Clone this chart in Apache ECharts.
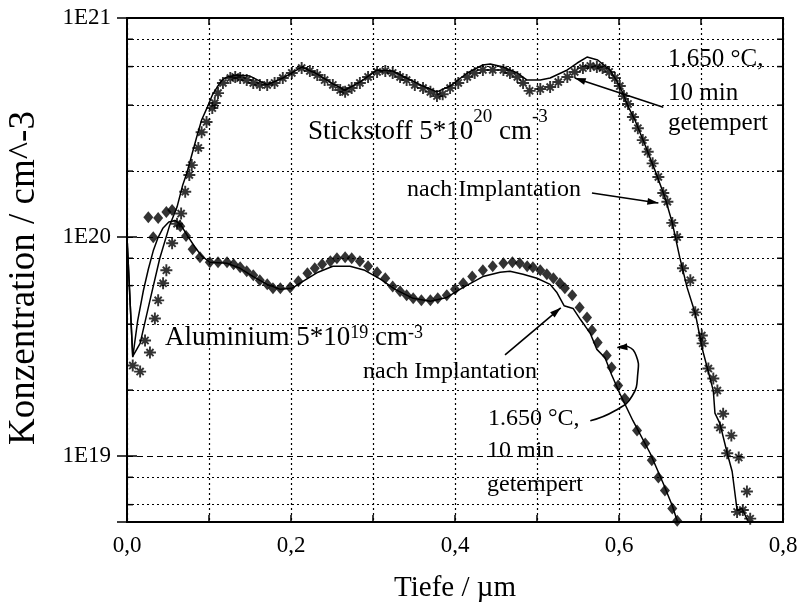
<!DOCTYPE html>
<html>
<head>
<meta charset="utf-8">
<script src="https://cdn.jsdelivr.net/npm/echarts@6/dist/echarts.min.js"></script>
<style>
  html, body { margin: 0; padding: 0; background: #fff; }
  #chart { width: 800px; height: 603px; }
</style>
</head>
<body>
<div id="chart"></div>
<script>
const FONT = '"Liberation Serif", "Times New Roman", "DejaVu Serif", serif';

// Tiefe (µm) / Konzentration (cm^-3)
const stickstoffImplantiert = [
  [0.007,2.59e19],[0.016,2.43e19],[0.022,3.37e19],[0.028,2.97e19],[0.034,4.25e19],[0.038,5.14e19],
  [0.044,6.15e19],[0.048,7.05e19],[0.055,9.36e19],[0.061,1.15e20],[0.066,1.28e20],[0.071,1.61e20],
  [0.076,1.92e20],[0.079,2.13e20],[0.087,2.55e20],[0.091,3.01e20],[0.097,3.35e20],[0.104,3.88e20],
  [0.107,4.09e20],[0.111,4.54e20],[0.117,5.05e20],[0.126,5.32e20],[0.132,5.38e20],[0.138,5.32e20],
  [0.146,5.21e20],[0.154,5.05e20],[0.162,4.95e20],[0.171,4.95e20],[0.180,5.05e20],[0.190,5.32e20],
  [0.201,5.61e20],[0.213,5.91e20],[0.223,5.73e20],[0.232,5.49e20],[0.241,5.21e20],[0.251,4.95e20],
  [0.260,4.69e20],[0.266,4.60e20],[0.274,4.79e20],[0.284,5.05e20],[0.294,5.38e20],[0.305,5.67e20],
  [0.315,5.73e20],[0.324,5.61e20],[0.333,5.38e20],[0.341,5.21e20],[0.351,4.95e20],[0.361,4.79e20],
  [0.370,4.60e20],[0.378,4.40e20],[0.385,4.49e20],[0.394,4.79e20],[0.404,5.05e20],[0.415,5.38e20],
  [0.424,5.61e20],[0.434,5.79e20],[0.446,5.79e20],[0.459,5.79e20],[0.467,5.61e20],[0.476,5.38e20],
  [0.483,5.05e20],[0.491,4.65e20],[0.504,4.74e20],[0.516,4.84e20],[0.526,5.10e20],[0.537,5.38e20],
  [0.546,5.67e20],[0.556,5.91e20],[0.565,6.04e20],[0.573,5.97e20],[0.580,5.91e20],[0.588,5.67e20],
  [0.595,5.32e20],[0.601,4.89e20],[0.606,4.40e20],[0.611,4.05e20],[0.617,3.53e20],[0.623,3.14e20],
  [0.629,2.77e20],[0.635,2.45e20],[0.641,2.17e20],[0.648,1.88e20],[0.654,1.59e20],[0.659,1.45e20],
  [0.665,1.16e20],[0.671,1.00e20],[0.678,7.20e19],[0.687,6.35e19],[0.693,4.53e19],[0.701,3.55e19],
  [0.702,3.27e19],[0.709,2.51e19],[0.715,2.26e19],[0.720,1.99e19],[0.727,1.56e19],[0.723,1.35e19],
  [0.737,1.24e19],[0.732,1.03e19],[0.746,9.85e18],[0.756,6.89e18],[0.744,5.56e18],[0.751,5.67e18],
  [0.760,5.18e18]
];

const stickstoffGetempert = [
  [0,1.0e20],[0.007,2.85e19],[0.016,3.27e19],[0.028,5.14e19],[0.040,8.0e19],[0.052,1.13e20],
  [0.061,1.37e20],[0.068,1.73e20],[0.073,1.96e20],[0.079,2.37e20],[0.085,2.86e20],[0.091,3.42e20],
  [0.098,3.92e20],[0.104,4.44e20],[0.110,4.84e20],[0.116,5.21e20],[0.122,5.38e20],[0.134,5.49e20],
  [0.150,5.43e20],[0.171,4.95e20],[0.190,5.32e20],[0.213,5.97e20],[0.232,5.55e20],[0.251,5.0e20],
  [0.266,4.69e20],[0.284,5.10e20],[0.305,5.79e20],[0.324,5.73e20],[0.341,5.32e20],[0.361,4.89e20],
  [0.378,4.60e20],[0.394,4.89e20],[0.415,5.61e20],[0.434,6.10e20],[0.443,6.16e20],[0.459,5.97e20],
  [0.476,5.61e20],[0.488,5.21e20],[0.504,5.21e20],[0.516,5.32e20],[0.537,5.79e20],[0.549,6.23e20],
  [0.561,6.63e20],[0.574,6.43e20],[0.589,5.79e20],[0.598,5.10e20],[0.604,4.60e20],[0.611,3.96e20],
  [0.620,3.38e20],[0.632,2.62e20],[0.644,2.01e20],[0.656,1.52e20],[0.665,1.16e20],[0.674,8.09e19],
  [0.683,5.89e19],[0.693,4.48e19],[0.702,3.04e19],[0.715,1.99e19],[0.717,1.57e19],[0.723,1.41e19],
  [0.732,1.03e19],[0.738,8.5e18],[0.744,5.67e18],[0.750,5.76e18],[0.757,5.07e18]
];

const aluminiumImplantiert = [
  [0,1.0e20],[0.007,2.83e19],[0.013,4.14e19],[0.020,5.70e19],[0.026,7.13e19],[0.032,8.65e19],
  [0.038,9.97e19],[0.044,1.10e20],[0.051,1.17e20],[0.059,1.19e20],[0.066,1.13e20],[0.074,1.01e20],
  [0.083,8.98e19],[0.091,8.2e19],[0.101,7.67e19],[0.122,7.59e19],[0.138,7.2e19],[0.154,6.6e19],
  [0.171,6.08e19],[0.187,5.77e19],[0.201,5.83e19],[0.217,6.35e19],[0.233,6.91e19],[0.251,7.35e19],
  [0.272,7.35e19],[0.290,7.05e19],[0.309,6.42e19],[0.327,5.77e19],[0.349,5.25e19],[0.370,5.09e19],
  [0.390,5.3e19],[0.410,5.89e19],[0.434,6.6e19],[0.455,6.91e19],[0.467,6.98e19],[0.483,6.76e19],
  [0.500,6.48e19],[0.516,6.08e19],[0.524,5.6e19],[0.533,4.86e19],[0.544,4.72e19],[0.553,4.2e19],
  [0.565,3.63e19],[0.573,3.07e19],[0.583,2.81e19],[0.591,2.35e19],[0.601,1.93e19],[0.617,1.45e19],
  [0.638,1.03e19],[0.654,7.49e18],[0.665,5.93e18],[0.672,4.92e18]
];

const aluminiumGetempert = [
  [0.026,1.23e20],[0.032,9.97e19],[0.038,1.22e20],[0.048,1.30e20],[0.055,1.33e20],[0.065,1.12e20],
  [0.072,1.01e20],[0.080,8.8e19],[0.089,8.08e19],[0.101,7.67e19],[0.111,7.67e19],[0.122,7.67e19],
  [0.130,7.51e19],[0.138,7.28e19],[0.146,6.98e19],[0.154,6.69e19],[0.162,6.35e19],[0.171,6.08e19],
  [0.178,5.83e19],[0.187,5.83e19],[0.199,5.89e19],[0.209,6.28e19],[0.220,6.83e19],[0.229,7.2e19],
  [0.238,7.51e19],[0.248,7.75e19],[0.256,8.0e19],[0.266,8.08e19],[0.274,8.0e19],[0.284,7.75e19],
  [0.294,7.35e19],[0.305,6.91e19],[0.315,6.48e19],[0.324,5.95e19],[0.333,5.65e19],[0.341,5.42e19],
  [0.349,5.25e19],[0.359,5.14e19],[0.370,5.14e19],[0.379,5.25e19],[0.390,5.42e19],[0.400,5.77e19],
  [0.410,6.15e19],[0.421,6.6e19],[0.434,7.05e19],[0.446,7.35e19],[0.459,7.59e19],[0.470,7.67e19],
  [0.479,7.59e19],[0.488,7.35e19],[0.495,7.28e19],[0.504,7.05e19],[0.512,6.76e19],[0.520,6.48e19],
  [0.528,6.15e19],[0.534,5.83e19],[0.543,5.42e19],[0.552,4.77e19],[0.561,4.29e19],[0.567,3.75e19],
  [0.574,3.3e19],[0.585,2.88e19],[0.591,2.54e19],[0.599,2.1e19],[0.607,1.83e19],[0.622,1.31e19],
  [0.632,1.14e19],[0.640,9.56e18],[0.648,7.98e18],[0.656,6.97e18],[0.665,5.76e18],[0.671,5.07e18]
];

// Dotted helper lines inside each decade (2, 4, 6, 8 × 10^n)
const minorGridLevels = [6e18, 8e18, 2e19, 4e19, 6e19, 8e19, 2e20, 4e20, 6e20, 8e20];

// Annotation arrows, in data coordinates [Tiefe, Konzentration]
const arrowNGetempert = [[0.654, 3.91e20], [0.546, 5.32e20]];
const arrowNImplant = [[0.567, 1.59e20], [0.648, 1.43e20]];
const arrowAlImplant = [[0.461, 2.90e19], [0.529, 4.75e19]];
const arrowAlGetempert = [[0.565, 1.45e19], [0.595, 1.61e19], [0.616, 1.88e19], [0.623, 2.40e19],
                          [0.621, 2.87e19], [0.611, 3.16e19], [0.598, 3.12e19]];

// eight-armed asterisk marker
const asteriskPath = 'path://M-1.6,-10L1.6,-10L1.6,10L-1.6,10Z M-10,-1.6L10,-1.6L10,1.6L-10,1.6Z ' +
  'M-4.8,-7.1L7.1,4.8L4.8,7.1L-7.1,-4.8Z M-7.1,4.8L4.8,-7.1L7.1,-4.8L-4.8,7.1Z';

const chart = echarts.init(document.getElementById('chart'), null, { renderer: 'canvas' });

const isDecade = v => {
  const e = Math.log10(v);
  return Math.abs(e - Math.round(e)) < 1e-6;
};

const option = {
  backgroundColor: '#fff',
  animation: false,
  textStyle: { fontFamily: FONT, color: '#000' },
  grid: { left: 127, right: 17, top: 18, bottom: 81, outerBoundsMode: 'none',
          show: true, borderColor: '#000', borderWidth: 2 },
  xAxis: [{
    type: 'value', min: 0, max: 0.8, interval: 0.1, position: 'bottom',
    name: 'Tiefe / µm', nameLocation: 'middle', nameGap: 52,
    nameTextStyle: { fontFamily: FONT, fontSize: 29, color: '#000' },
    axisLine: { show: true, lineStyle: { color: '#000', width: 2 } },
    axisTick: { show: true, inside: true, length: 7, lineStyle: { color: '#000', width: 1.5 } },
    axisLabel: {
      fontFamily: FONT, fontSize: 23, color: '#000', margin: 12,
      formatter: v => (Math.round(v * 10) % 2 === 0 ? v.toFixed(1).replace('.', ',') : '')
    },
    splitLine: { show: true, lineStyle: { color: '#000', width: 1.2, type: [2, 3] } }
  }, {
    type: 'value', min: 0, max: 0.8, interval: 0.1, position: 'top',
    axisLine: { show: true, lineStyle: { color: '#000', width: 2 } },
    axisTick: { show: true, inside: true, length: 7, lineStyle: { color: '#000', width: 1.5 } },
    axisLabel: { show: false }, splitLine: { show: false }
  }],
  yAxis: [{
    type: 'log', logBase: 10, min: 5e18, max: 1e21, position: 'left',
    name: 'Konzentration / cm^-3', nameLocation: 'middle', nameGap: 84,
    nameTextStyle: { fontFamily: FONT, fontSize: 37, color: '#000', padding: [0, 16, 0, 0] },
    axisLine: { show: true, lineStyle: { color: '#000', width: 2 } },
    axisTick: { show: true, inside: true, length: 10, lineStyle: { color: '#000', width: 1.5 } },
    axisLabel: {
      fontFamily: FONT, fontSize: 23, color: '#000', margin: 16,
      formatter: v => (isDecade(v) ? '1E' + Math.round(Math.log10(v)) : '')
    },
    splitLine: { show: true, lineStyle: { color: '#000', width: 1.2, type: [6, 4] } }
  }, {
    type: 'log', logBase: 10, min: 5e18, max: 1e21, position: 'right',
    axisLine: { show: true, lineStyle: { color: '#000', width: 2 } },
    axisTick: { show: true, inside: true, length: 10, lineStyle: { color: '#000', width: 1.5 } },
    axisLabel: { show: false }, splitLine: { show: false }
  }],
  series: [{
    name: 'Aluminium getempert', type: 'scatter', data: aluminiumGetempert,
    symbol: 'diamond', symbolSize: [10, 12], itemStyle: { color: '#000' }, z: 3,
    markLine: {
      silent: true, symbol: ['none', 'none'], label: { show: false },
      lineStyle: { color: '#000', width: 1, type: [2, 3] },
      data: minorGridLevels.map(v => ({ yAxis: v })), z: 1
    }
  }, {
    name: 'Aluminium implantiert', type: 'line', data: aluminiumImplantiert,
    showSymbol: false, symbol: 'none', lineStyle: { color: '#000', width: 1.5 }, z: 4
  }, {
    name: 'Stickstoff implantiert', type: 'scatter', data: stickstoffImplantiert,
    symbol: asteriskPath, symbolSize: 12, itemStyle: { color: '#000' }, z: 3
  }, {
    name: 'Stickstoff getempert', type: 'line', data: stickstoffGetempert,
    showSymbol: false, symbol: 'none', lineStyle: { color: '#000', width: 1.5 }, z: 4
  }]
};

chart.setOption(option);

// Annotations placed after layout so arrows follow the axes
const toPx = p => chart.convertToPixel({ gridIndex: 0 }, p);

function arrowHead(tip, from, len, half) {
  const dx = tip[0] - from[0], dy = tip[1] - from[1];
  const L = Math.hypot(dx, dy) || 1;
  const ux = dx / L, uy = dy / L;
  const bx = tip[0] - ux * len, by = tip[1] - uy * len;
  return {
    type: 'polygon', z: 10,
    shape: { points: [tip, [bx - uy * half, by + ux * half], [bx + uy * half, by - ux * half]] },
    style: { fill: '#000' }
  };
}

function straightArrow(pair) {
  const a = toPx(pair[0]), b = toPx(pair[1]);
  return [
    { type: 'line', z: 10, shape: { x1: a[0], y1: a[1], x2: b[0], y2: b[1] },
      style: { stroke: '#000', lineWidth: 1.6 } },
    arrowHead(b, a, 11, 3.5)
  ];
}

function curvedArrow(points) {
  const pts = points.map(toPx);
  return [
    { type: 'polyline', z: 10, shape: { points: pts, smooth: 0.5 },
      style: { stroke: '#000', lineWidth: 1.6, fill: null } },
    arrowHead(pts[pts.length - 1], pts[pts.length - 2], 10, 3.5)
  ];
}

const label = (x, y, text, size) => ({
  type: 'text', z: 11, x: x, y: y,
  style: { text: text, font: size + 'px ' + FONT, fill: '#000', verticalAlign: 'middle', align: 'left' }
});

const richLabel = (x, y, text, size, supSize, lineH) => ({
  type: 'text', z: 11, x: x, y: y,
  style: {
    text: text, fill: '#000', verticalAlign: 'middle', align: 'left',
    rich: {
      b: { fontFamily: FONT, fontSize: size, lineHeight: lineH, fill: '#000' },
      s: { fontFamily: FONT, fontSize: supSize, lineHeight: supSize, verticalAlign: 'top', fill: '#000' }
    }
  }
});

const [xLeft] = toPx([0, 1e20]);
const [xRight] = toPx([0.8, 1e20]);
const minorTicks = [];
minorGridLevels.forEach(v => {
  const y = toPx([0, v])[1];
  minorTicks.push({ type: 'line', z: 9, shape: { x1: xLeft, y1: y, x2: xLeft + 6, y2: y },
                    style: { stroke: '#000', lineWidth: 1.5 } });
  minorTicks.push({ type: 'line', z: 9, shape: { x1: xRight - 6, y1: y, x2: xRight, y2: y },
                    style: { stroke: '#000', lineWidth: 1.5 } });
});

chart.setOption({
  graphic: [
    ...minorTicks,
    ...straightArrow(arrowNGetempert),
    ...straightArrow(arrowNImplant),
    ...straightArrow(arrowAlImplant),
    ...curvedArrow(arrowAlGetempert),
    richLabel(308, 132, '{b|Stickstoff 5*10}{s|20}{b| cm}{s|-3}', 27, 19, 48),
    richLabel(165, 338, '{b|Aluminium 5*10}{s|19}{b| cm}{s|-3}', 27, 18, 28),
    label(668, 59, '1.650 °C,', 25),
    label(668, 93, '10 min', 25),
    label(668, 123, 'getempert', 25),
    label(407, 190, 'nach Implantation', 24),
    label(363, 372, 'nach Implantation', 24),
    label(488, 419, '1.650 °C,', 24),
    label(487, 451, '10 min', 24),
    label(487, 485, 'getempert', 24)
  ]
});
</script>
</body>
</html>
